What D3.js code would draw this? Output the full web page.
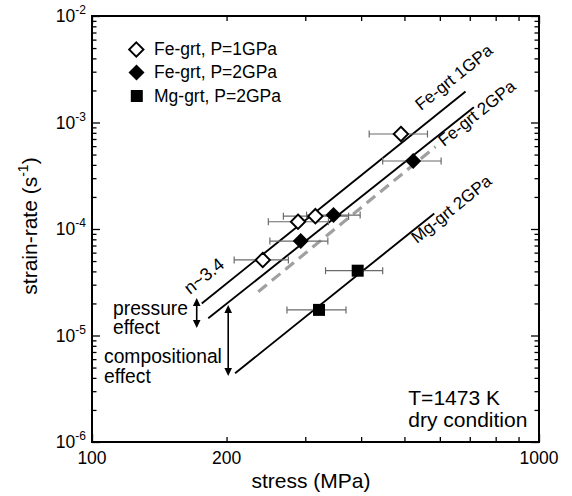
<!DOCTYPE html>
<html><head><meta charset="utf-8">
<script src="https://cdn.jsdelivr.net/npm/d3@7"></script>
<style>html,body{margin:0;padding:0;background:#fff}svg{display:block}text{font-family:"Liberation Sans",Arial,Helvetica,sans-serif;fill:#000}</style>
</head><body><svg id="c" width="572" height="496"></svg>
<script>
// ---- data ----
const xDomain = [100, 1000];
const yDomain = [1e-6, 1e-2];
const xTickLabels = [100, 200, 1000];
const yTickExps = [-6, -5, -4, -3, -2];
// stress (MPa), strain-rate (1/s), error bar low/high stress
const feGrt1GPa = [
  {s: 241, r: 5.12e-5, lo: 208, hi: 275},
  {s: 289, r: 1.17e-4, lo: 248, hi: 338},
  {s: 316, r: 1.32e-4, lo: 268, hi: 375},
  {s: 491, r: 7.8e-4, lo: 417, hi: 563}
];
const feGrt2GPa = [
  {s: 293, r: 7.7e-5, lo: 250, hi: 337},
  {s: 347, r: 1.35e-4, lo: 302, hi: 398},
  {s: 523, r: 4.35e-4, lo: 447, hi: 604}
];
const mgGrt2GPa = [
  {s: 322, r: 1.74e-5, lo: 273, hi: 370},
  {s: 393, r: 4.06e-5, lo: 333, hi: 447}
];
const fitLines = [
  {label: "Fe-grt 1GPa", s0: 176, s1: 685, r0: 2.0e-5, r1: 1.95e-3},
  {label: "Fe-grt 2GPa", s0: 182, s1: 715, r0: 1.45e-5, r1: 1.39e-3},
  {label: "Mg-grt 2GPa", s0: 209, s1: 583, r0: 4.42e-6, r1: 1.40e-4}
];
const dashedLine = {s0: 235.5, s1: 587, r0: 2.58e-5, r1: 5.93e-4};
const pressureArrow = {s: 171.5, r0: 2.25e-5, r1: 1.175e-5};
const compArrow = {s: 201.7, r0: 1.93e-5, r1: 4.17e-6};
const legendItems = ["Fe-grt, P=1GPa", "Fe-grt, P=2GPa", "Mg-grt, P=2GPa"];

// ---- layout ----
const L = 92, R = 539, T = 16, B = 442;
const svg = d3.select("#c");
const x = d3.scaleLog().domain(xDomain).range([L, R]);
const y = d3.scaleLog().domain(yDomain).range([B, T]);

// ticks
const xMajor = [100, 1000];
const xMinor = d3.range(2, 10).map(d => d * 100);
const yMajor = yTickExps.map(e => Math.pow(10, e));
const yMinor = [];
yTickExps.slice(0, -1).forEach(e => { for (let k = 2; k <= 9; k++) yMinor.push(k * Math.pow(10, e)); });

function ax(gen, vals, size, tx, ty) {
  svg.append("g").attr("transform", `translate(${tx},${ty})`)
    .call(gen.tickValues(vals).tickSize(size).tickFormat(""))
    .call(g => g.select(".domain").remove())
    .call(g => g.selectAll("line").attr("stroke", "#000").attr("stroke-width", 1.3));
}
ax(d3.axisLeft(y), yMajor, -8, L, 0);
ax(d3.axisLeft(y), yMinor, -4.5, L, 0);
ax(d3.axisRight(y), yMajor, -8, R, 0);
ax(d3.axisRight(y), yMinor, -4.5, R, 0);
ax(d3.axisBottom(x), xMajor, -8, 0, B);
ax(d3.axisBottom(x), xMinor, -5, 0, B);
ax(d3.axisTop(x), xMajor, -8, 0, T);
ax(d3.axisTop(x), xMinor, -5, 0, T);

svg.append("rect").attr("x", L).attr("y", T).attr("width", R - L).attr("height", B - T)
  .attr("fill", "none").attr("stroke", "#000").attr("stroke-width", 2);

// tick labels
xTickLabels.forEach(v => {
  svg.append("text").attr("x", x(v)).attr("y", B + 21.5).attr("text-anchor", "middle")
    .attr("font-size", 17.5).text(v);
});
yTickExps.forEach(e => {
  const t = svg.append("text").attr("x", L - 6).attr("y", y(Math.pow(10, e)) + 6)
    .attr("text-anchor", "end").attr("font-size", 17.5);
  t.append("tspan").text("10");
  t.append("tspan").attr("font-size", 12).attr("dy", -8).text(String(e));
});

// axis titles
svg.append("text").attr("x", 311).attr("y", 488).attr("text-anchor", "middle")
  .attr("font-size", 21).text("stress (MPa)");
const yt = svg.append("text").attr("transform", "translate(36.5,226) rotate(-90)")
  .attr("text-anchor", "middle").attr("font-size", 21);
yt.append("tspan").text("strain-rate (s");
yt.append("tspan").attr("font-size", 14).attr("dy", -9).text("-1");
yt.append("tspan").attr("dy", 9).text(")");

// lines
const angle = -Math.atan((y(fitLines[0].r0) - y(fitLines[0].r1)) / (x(fitLines[0].s1) - x(fitLines[0].s0))) * 180 / Math.PI;
fitLines.forEach(l => {
  svg.append("line").attr("x1", x(l.s0)).attr("y1", y(l.r0)).attr("x2", x(l.s1)).attr("y2", y(l.r1))
    .attr("stroke", "#000").attr("stroke-width", 1.9);
});
svg.append("line").attr("x1", x(dashedLine.s0)).attr("y1", y(dashedLine.r0))
  .attr("x2", x(dashedLine.s1)).attr("y2", y(dashedLine.r1))
  .attr("stroke", "#a0a0a0").attr("stroke-width", 3.2).attr("stroke-dasharray", "11,6.5");

// line labels
const labelPos = [[421, 111], [444, 147], [417, 244]];
fitLines.forEach((l, i) => {
  svg.append("text").attr("transform", `translate(${labelPos[i][0]},${labelPos[i][1]}) rotate(${angle})`)
    .attr("font-size", 17).text(l.label);
});
svg.append("text").attr("transform", `translate(190,295) rotate(${angle})`)
  .attr("font-size", 18).text("n~3.4");

// error bars
function errBars(data) {
  data.forEach(d => {
    const cy = y(d.r);
    svg.append("line").attr("x1", x(d.lo)).attr("x2", x(d.hi)).attr("y1", cy).attr("y2", cy)
      .attr("stroke", "#6a6a6a").attr("stroke-width", 1.2);
    [d.lo, d.hi].forEach(v => svg.append("line").attr("x1", x(v)).attr("x2", x(v))
      .attr("y1", cy - 3.5).attr("y2", cy + 3.5).attr("stroke", "#6a6a6a").attr("stroke-width", 1.2));
  });
}
errBars(feGrt1GPa); errBars(feGrt2GPa); errBars(mgGrt2GPa);

const diamond = (cx, cy, r) => `M${cx},${cy - r}L${cx + r},${cy}L${cx},${cy + r}L${cx - r},${cy}Z`;
function markOpen(cx, cy) {
  svg.append("path").attr("d", diamond(cx, cy, 7.2)).attr("fill", "#fff").attr("stroke", "#000").attr("stroke-width", 1.9);
}
function markFill(cx, cy) {
  svg.append("path").attr("d", diamond(cx, cy, 8)).attr("fill", "#000");
}
function markSq(cx, cy) {
  svg.append("rect").attr("x", cx - 6).attr("y", cy - 6).attr("width", 12).attr("height", 12).attr("fill", "#000");
}
feGrt1GPa.forEach(d => markOpen(x(d.s), y(d.r)));
feGrt2GPa.forEach(d => markFill(x(d.s), y(d.r)));
mgGrt2GPa.forEach(d => markSq(x(d.s), y(d.r)));

// arrows
function dblArrow(a) {
  const ax_ = x(a.s), y0 = y(a.r0), y1 = y(a.r1);
  svg.append("line").attr("x1", ax_).attr("x2", ax_).attr("y1", y0 + 6).attr("y2", y1 - 6)
    .attr("stroke", "#000").attr("stroke-width", 1.6);
  svg.append("path").attr("d", `M${ax_},${y0}L${ax_ + 3.8},${y0 + 8}L${ax_ - 3.8},${y0 + 8}Z`).attr("fill", "#000");
  svg.append("path").attr("d", `M${ax_},${y1}L${ax_ + 3.8},${y1 - 8}L${ax_ - 3.8},${y1 - 8}Z`).attr("fill", "#000");
}
dblArrow(pressureArrow);
dblArrow(compArrow);

// annotations
svg.append("text").attr("x", 113).attr("y", 315).attr("font-size", 19.3).text("pressure");
svg.append("text").attr("x", 113).attr("y", 334).attr("font-size", 19.3).text("effect");
svg.append("text").attr("x", 104).attr("y", 363.3).attr("font-size", 19.3).text("compositional");
svg.append("text").attr("x", 104).attr("y", 382.5).attr("font-size", 19.3).text("effect");
svg.append("text").attr("x", 408.3).attr("y", 405).attr("font-size", 21).text("T=1473 K");
svg.append("text").attr("x", 408.3).attr("y", 426.5).attr("font-size", 21).text("dry condition");

// legend
const legY = [49.5, 72.5, 96];
markOpen(136.3, legY[0]);
markFill(136.5, legY[1]);
markSq(136.8, legY[2]);
legendItems.forEach((t, i) => {
  svg.append("text").attr("x", 154).attr("y", legY[i] + 5.8).attr("font-size", 17.5).text(t);
});
</script></body></html>
